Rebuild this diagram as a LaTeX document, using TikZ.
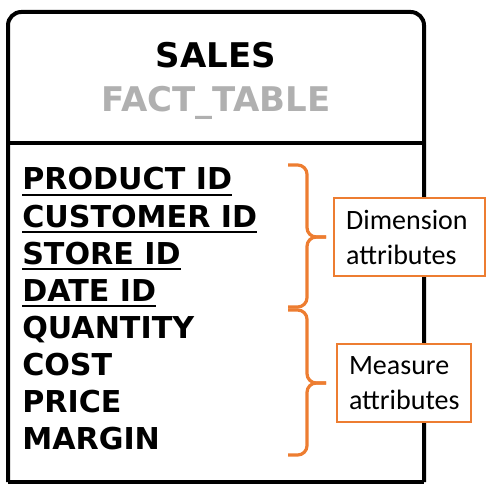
\documentclass[tikz,border=0pt]{standalone}
\usepackage{fontspec}
\setmainfont{DejaVu Sans}
\newfontfamily\labelfont{Carlito}
\definecolor{braceorange}{HTML}{ED7D31}
\definecolor{titlegray}{HTML}{B0B0B0}

\begin{document}
\begin{tikzpicture}[x=0.75pt, y=-0.75pt,
  title/.style = {anchor=base, inner sep=0pt,
    font=\bfseries\fontsize{25.5}{30}\selectfont},
  attr/.style = {anchor=base west, inner sep=0pt,
    font=\bfseries\fontsize{22.6}{27}\selectfont},
  keyline/.style = {line width=1.5pt},
  labelbox/.style = {draw=braceorange, line width=1.1pt, fill=white,
    align=left, inner xsep=9pt, minimum height=58.5pt,
    font=\labelfont\fontsize{21}{26.25}\selectfont},
  brace/.style = {draw=braceorange, line width=2.4pt, rounded corners=7pt}]
  \useasboundingbox (0,0) rectangle (491,495);

  % table frame
  \draw[line width=3pt, line cap=square, rounded corners=10pt]
    (8,482) -- (8,12) -- (424,12) -- (424,482);
  \draw[line width=3pt, line cap=square] (8,482) -- (424,482);
  \draw[line width=3pt] (8,143) -- (424,143);

  \node[title] (sales) at (216,68) {SALES};
  \node[title, text=titlegray] (facttable) at (216,112) {FACT\_TABLE};

  % attributes
  \node[attr] (prodid)   at (22,190) {PRODUCT ID};
  \node[attr] (custid)   at (22,227) {CUSTOMER ID};
  \node[attr] (storeid)  at (22,264) {STORE ID};
  \node[attr] (dateid)   at (22,301) {DATE ID};
  \node[attr] (quantity) at (22,338) {QUANTITY};
  \node[attr] (cost)     at (22,375) {COST};
  \node[attr] (price)    at (22,412) {PRICE};
  \node[attr] (margin)   at (22,449) {MARGIN};
  \foreach \n in {prodid,custid,storeid,dateid}
    \draw[keyline] ([yshift=-3.5pt]\n.base west) -- ([yshift=-3.5pt]\n.base east);

  % braces
  \draw[brace] (288,165) -- (307,165) -- (307,237) -- (326,237);
  \draw[brace] (288,307) -- (307,307) -- (307,237) -- (326,237);
  \draw[brace] (288,310) -- (307,310) -- (307,383) -- (326,383);
  \draw[brace] (288,455) -- (307,455) -- (307,383) -- (326,383);

  \node[labelbox, text width=95pt] (dimension) at (409.5,237) {Dimension\\attributes};
  \node[labelbox, text width=82.5pt] (measure) at (404,383) {Measure\\attributes};
\end{tikzpicture}
\end{document}
